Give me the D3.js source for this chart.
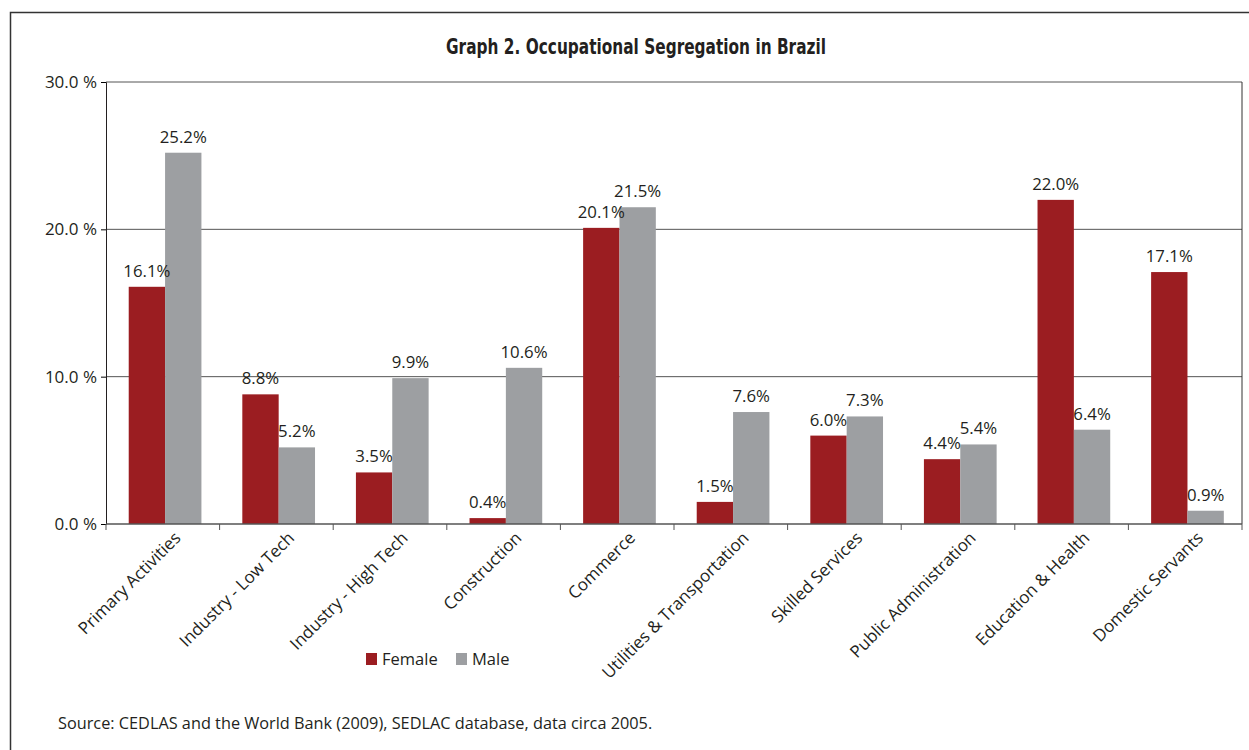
<!doctype html>
<html lang="en">
<head>
<meta charset="UTF-8">
<title>Occupational Segregation in Brazil</title>
<style>
  body { margin: 0; background: #fff; }
  text { font-family: "Open Sans", "Noto Sans", sans-serif; fill: #231f20; }
  .title { font-family: "DejaVu Sans", sans-serif; font-weight: bold; font-size: 21px; }
</style>
</head>
<body>
<div id="chart"></div>
<script src="https://d3js.org/d3.v7.min.js"></script>
<script>
const categories = ['Primary Activities', 'Industry - Low Tech', 'Industry - High Tech', 'Construction',
  'Commerce', 'Utilities & Transportation', 'Skilled Services', 'Public Administration',
  'Education & Health', 'Domestic Servants']
const female = [16.1, 8.8, 3.5, 0.4, 20.1, 1.5, 6.0, 4.4, 22.0, 17.1]
const male = [25.2, 5.2, 9.9, 10.6, 21.5, 7.6, 7.3, 5.4, 6.4, 0.9]
const seriesNames = ['Female', 'Male']
const yTicks = [0, 10, 20, 30]

const W = 1249, H = 750
const margin = {left: 106, top: 82, right: 7, bottom: 226}
const w = W - margin.left - margin.right
const h = H - margin.top - margin.bottom
const colors = {Female: '#9b1d21', Male: '#9d9fa2'}

const svg = d3.select('#chart').append('svg')
  .attr('width', W).attr('height', H)

// outer frame
svg.append('rect')
  .attr('x', 10.5).attr('y', 12.5)
  .attr('width', W + 20).attr('height', H + 20)
  .attr('fill', 'none').attr('stroke', '#333').attr('stroke-width', 1.5)

svg.append('text')
  .attr('class', 'title')
  .attr('x', 636).attr('y', 54)
  .attr('text-anchor', 'middle')
  .attr('textLength', 380)
  .attr('lengthAdjust', 'spacingAndGlyphs')
  .text('Graph 2. Occupational Segregation in Brazil')

const g = svg.append('g').attr('transform', `translate(${margin.left},${margin.top})`)

const x0 = d3.scaleBand().domain(categories).range([0, w]).padding(0)
const x1 = d3.scaleBand().domain(seriesNames)
  .range([x0.bandwidth() * 0.2, x0.bandwidth() * 0.84]).padding(0)
const y = d3.scaleLinear().domain([0, 30]).range([h, 0])

// gridlines
g.selectAll('.grid').data(yTicks.slice(1))
  .enter().append('line')
  .attr('x1', 0).attr('x2', w)
  .attr('y1', d => y(d)).attr('y2', d => y(d))
  .attr('stroke', '#555').attr('stroke-width', 1)

// right border
g.append('line').attr('x1', w).attr('x2', w).attr('y1', 0).attr('y2', h)
  .attr('stroke', '#333').attr('stroke-width', 1)

const data = categories.map((c, i) => ({cat: c, vals: [
  {key: 'Female', v: female[i]}, {key: 'Male', v: male[i]}]}))

const groups = g.selectAll('.grp').data(data).enter().append('g')
  .attr('transform', d => `translate(${x0(d.cat)},0)`)

groups.selectAll('rect').data(d => d.vals).enter().append('rect')
  .attr('x', d => x1(d.key))
  .attr('width', x1.bandwidth())
  .attr('y', d => y(d.v))
  .attr('height', d => h - y(d.v))
  .attr('fill', d => colors[d.key])

groups.selectAll('.lbl').data(d => d.vals).enter().append('text')
  .attr('x', d => x1(d.key) + x1.bandwidth() / 2)
  .attr('y', d => y(d.v) - 10)
  .attr('text-anchor', 'middle')
  .style('font-size', '16.8px')
  .text(d => d.v.toFixed(1) + '%')

// y axis
const yAxis = g.append('g')
  .call(d3.axisLeft(y).tickValues(yTicks).tickSize(5).tickPadding(4).tickFormat(d => d.toFixed(1) + ' %'))
yAxis.select('.domain').attr('stroke', '#231f20')
yAxis.selectAll('text').style('font-size', '17px').attr('fill', '#231f20')
  .style('font-family', '"Open Sans", sans-serif')

// x axis
const xAxis = g.append('g').attr('transform', `translate(0,${h})`)
xAxis.append('line').attr('x1', 0).attr('x2', w).attr('stroke', '#555').attr('stroke-width', 1.5)
xAxis.selectAll('.tick').data(d3.range(categories.length + 1)).enter().append('line')
  .attr('x1', d => d * x0.step()).attr('x2', d => d * x0.step())
  .attr('y1', 0).attr('y2', 6).attr('stroke', '#555')

xAxis.selectAll('.xl').data(categories).enter().append('text')
  .attr('transform', d => `translate(${x0(d) + x0.bandwidth() / 2 + 19},${15}) rotate(-45)`)
  .attr('text-anchor', 'end')
  .style('font-size', '17px')
  .text(d => d)

// legend
const legend = svg.append('g').attr('transform', 'translate(366,653)')
const li = legend.selectAll('g').data(seriesNames).enter().append('g')
  .attr('transform', (d, i) => `translate(${i * 90},0)`)
li.append('rect').attr('width', 11).attr('height', 12).attr('fill', d => colors[d])
li.append('text').attr('x', 16).attr('y', 12).style('font-size', '16.5px').text(d => d)

svg.append('text')
  .attr('x', 58).attr('y', 729)
  .style('font-size', '16.3px')
  .text('Source: CEDLAS and the World Bank (2009), SEDLAC database, data circa 2005.')
</script>
</body>
</html>
